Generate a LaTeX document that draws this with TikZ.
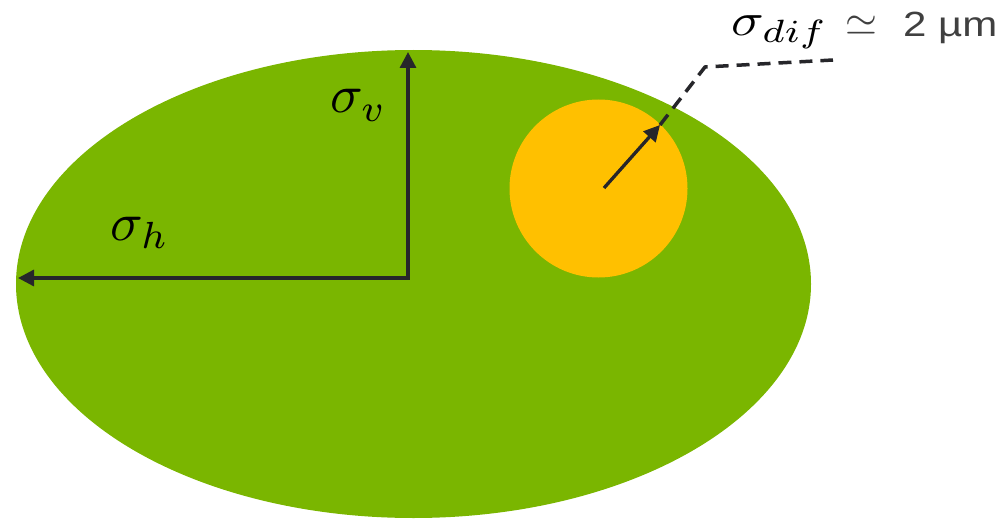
\documentclass[tikz,border=0pt]{standalone}
\usepackage{fontspec}
\setsansfont{Liberation Sans}
\usetikzlibrary{arrows.meta}
\definecolor{leaf}{RGB}{122,182,0}
\definecolor{amber}{RGB}{255,192,0}
\definecolor{ink}{RGB}{38,38,42}
\definecolor{txtgray}{RGB}{64,64,64}
\tikzset{
  axisarrow/.style={draw=ink, line width=3.3pt, -{Triangle[length=16pt,width=16pt]}},
  leader/.style={draw=ink, line width=3.5pt, dash pattern=on 13pt off 8pt},
  lbl/.style={inner sep=0pt}
}
\begin{document}
\begin{tikzpicture}[x=1pt,y=-1pt]
\useasboundingbox (0,0) rectangle (1002,519);
\fill[leaf] (413.5,284) ellipse [x radius=397.5, y radius=234];
\fill[amber] (598.5,188.5) circle [radius=89];
\coordinate (O) at (408,278);
\coordinate (top) at (408,52);
\coordinate (left) at (18,278);
\coordinate (C) at (604,188);
\coordinate (tip) at (660,125);
\coordinate (bend) at (705,67);
\coordinate (end) at (833,60);
\draw[axisarrow] ([yshift=1.6pt]O) -- (top);
\draw[axisarrow] ([xshift=1.6pt]O) -- (left);
\draw[axisarrow] (C) -- (tip);
\draw[leader] (tip) -- (bend) -- (end);
\node[lbl, anchor=base west] (sv) at (330,113) {\scalebox{5.4}{$\sigma_v$}};
\node[lbl, anchor=base west] (sh) at (110,240) {\scalebox{5.4}{$\sigma_h$}};
\node[lbl, anchor=base west] (sd) at (731,36) {\scalebox{5.4}[4.6]{$\sigma_{dif}$}};
\node[lbl, anchor=base west, text=txtgray] (sim) at (845,36) {\scalebox{4.1}[4.2]{$\simeq$}};
\node[lbl, anchor=base west, text=txtgray] (um) at (903,37) {\scalebox{1.2}[1]{\sffamily\fontsize{35}{40}\selectfont 2 µm}};
\end{tikzpicture}
\end{document}
